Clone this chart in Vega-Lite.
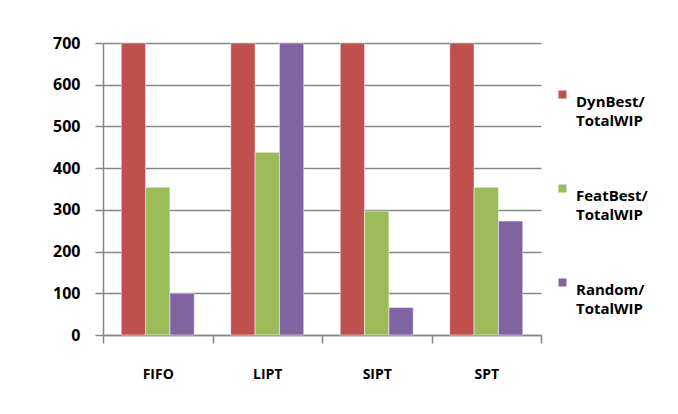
{
  "$schema": "https://vega.github.io/schema/vega-lite/v6.json",
  "width": 438,
  "height": 292,
  "autosize": {"type": "none"},
  "padding": {"left": 103, "top": 43, "right": 137, "bottom": 79},
  "background": "white",
  "data": {
    "values": [
      {"rule": "FIFO", "series": "DynBest/ TotalWIP", "value": 700},
      {"rule": "FIFO", "series": "FeatBest/ TotalWIP", "value": 354},
      {"rule": "FIFO", "series": "Random/ TotalWIP", "value": 100},
      {"rule": "LIPT", "series": "DynBest/ TotalWIP", "value": 700},
      {"rule": "LIPT", "series": "FeatBest/ TotalWIP", "value": 438},
      {"rule": "LIPT", "series": "Random/ TotalWIP", "value": 700},
      {"rule": "SIPT", "series": "DynBest/ TotalWIP", "value": 700},
      {"rule": "SIPT", "series": "FeatBest/ TotalWIP", "value": 297},
      {"rule": "SIPT", "series": "Random/ TotalWIP", "value": 66},
      {"rule": "SPT", "series": "DynBest/ TotalWIP", "value": 700},
      {"rule": "SPT", "series": "FeatBest/ TotalWIP", "value": 354},
      {"rule": "SPT", "series": "Random/ TotalWIP", "value": 273}
    ]
  },
  "mark": {"type": "bar", "stroke": "white", "strokeWidth": 0.5},
  "encoding": {
    "x": {
      "field": "rule",
      "type": "nominal",
      "sort": ["FIFO", "LIPT", "SIPT", "SPT"],
      "scale": {"paddingInner": 0, "paddingOuter": 0},
      "axis": {
        "title": null,
        "labelAngle": 0,
        "tickBand": "extent",
        "tickSize": 8,
        "tickColor": "#868686",
        "tickWidth": 1.5,
        "domainColor": "#868686",
        "domainWidth": 1.5,
        "labelPadding": 24,
        "labelFont": "Open Sans",
        "labelFontWeight": "bold",
        "labelFontSize": 14,
        "labelColor": "#000000",
        "grid": false
      }
    },
    "xOffset": {
      "field": "series",
      "type": "nominal",
      "scale": {"paddingInner": 0, "paddingOuter": 0.75}
    },
    "y": {
      "field": "value",
      "type": "quantitative",
      "scale": {"domain": [0, 700], "nice": false},
      "axis": {
        "title": null,
        "values": [0, 100, 200, 300, 400, 500, 600, 700],
        "tickSize": 8,
        "tickColor": "#868686",
        "tickWidth": 1.5,
        "domainColor": "#868686",
        "domainWidth": 1.5,
        "gridColor": "#868686",
        "gridWidth": 1.5,
        "labelPadding": 15,
        "labelFont": "Open Sans",
        "labelFontWeight": "bold",
        "labelFontSize": 16,
        "labelColor": "#000000"
      }
    },
    "color": {
      "field": "series",
      "type": "nominal",
      "scale": {"range": ["#C0504D", "#9BBB59", "#8064A2"]},
      "legend": {
        "title": null,
        "orient": "none",
        "legendX": 452,
        "legendY": 44,
        "symbolType": "square",
        "symbolSize": 64,
        "symbolStrokeWidth": 0,
        "symbolOpacity": 1,
        "labelExpr": "split(datum.label, ' ')",
        "labelFont": "Open Sans",
        "labelFontWeight": "bold",
        "labelFontSize": 15,
        "labelColor": "#000000",
        "labelBaseline": "top",
        "labelOffset": 6,
        "rowPadding": 52
      }
    }
  },
  "config": {
    "view": {"stroke": null},
    "style": {"guide-label": {"lineHeight": 19}}
  }
}
